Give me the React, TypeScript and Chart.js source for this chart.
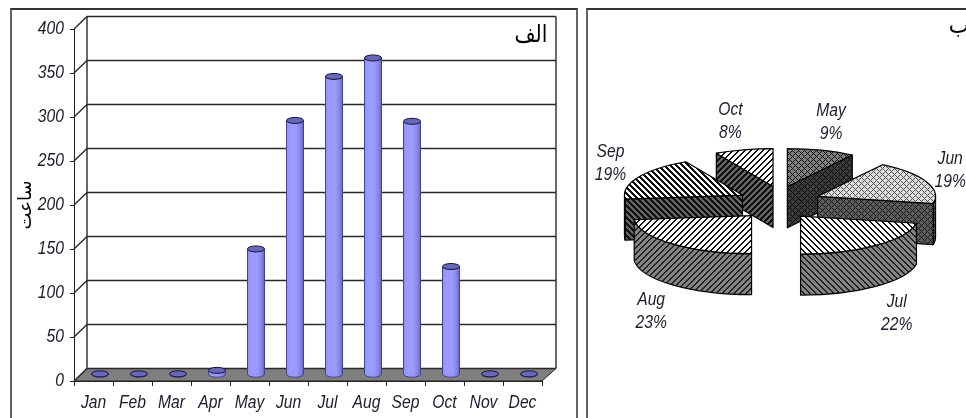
import React, { useEffect, useRef } from "react";
import { Chart, registerables } from "chart.js";

Chart.register(...registerables);

const months = ["Jan", "Feb", "Mar", "Apr", "May", "Jun", "Jul", "Aug", "Sep", "Oct", "Nov", "Dec"];
const hours = [1, 1, 1, 5, 143, 289, 339, 360, 288, 123, 1, 1];
const yTicks = [0, 50, 100, 150, 200, 250, 300, 350, 400];
const pieMonths = ["May", "Jun", "Jul", "Aug", "Sep", "Oct"];
const pieHours = [143, 289, 339, 360, 288, 123];
const pieExplode = [36, 44, 37, 38, 39, 16];
const yTitle = "ساعت";
const panelA = "الف";
const panelB = "ب";

const LABEL_FONT = 'italic 18px "Liberation Sans", sans-serif';
const ARABIC_FONT = '24px "DejaVu Sans"';
const TEXT = "#1c1c2a";

function squeezed(ctx: any, text: string, x: number, y: number, align: string, font: string, sx = 0.87) {
  ctx.save();
  ctx.translate(x, y);
  ctx.scale(sx, 1);
  ctx.font = font;
  ctx.textAlign = align;
  ctx.textBaseline = "middle";
  ctx.fillText(text, 0, 0);
  ctx.restore();
}

function tile(paint: (x: number, y: number) => string) {
  const c = document.createElement("canvas");
  c.width = 6;
  c.height = 6;
  const g = c.getContext("2d")!;
  for (let x = 0; x < 6; x++) for (let y = 0; y < 6; y++) {
    g.fillStyle = paint(x, y);
    g.fillRect(x, y, 1, 1);
  }
  return g.createPattern(c, "repeat")!;
}
const stripes = (down: boolean, w: number, bg: string, fg: string) =>
  tile((x, y) => ((down ? x - y + 12 : x + y) % 6 < w ? fg : bg));
const lattice = (bg: string, fg: string) =>
  tile((x, y) => ((x + y) % 6 === 0 || (x - y + 6) % 6 === 0 ? fg : bg));

const barDepth = {
  id: "barDepth",
  beforeDatasetsDraw(chart: any) {
    const { ctx, chartArea: a, scales } = chart;
    const dx = 13, dy = -12.5;
    ctx.save();
    ctx.beginPath();
    ctx.moveTo(a.left, a.bottom);
    ctx.lineTo(a.right, a.bottom);
    ctx.lineTo(a.right + dx + 1, a.bottom + dy);
    ctx.lineTo(a.left + dx, a.bottom + dy);
    ctx.closePath();
    ctx.fillStyle = "#7f7f7f";
    ctx.fill();
    ctx.strokeStyle = "#222";
    ctx.lineWidth = 1;
    ctx.stroke();
    ctx.lineWidth = 1.4;
    ctx.strokeStyle = "#2a2a2a";
    scales.y.ticks.forEach((_: any, i: number) => {
      const y = scales.y.getPixelForTick(i);
      ctx.beginPath();
      ctx.moveTo(a.left, y);
      ctx.lineTo(a.left + dx, y + dy);
      ctx.lineTo(a.right + dx + 1, y + dy);
      ctx.stroke();
    });
    ctx.beginPath();
    ctx.moveTo(a.left + dx, a.top + dy);
    ctx.lineTo(a.left + dx, a.bottom + dy);
    ctx.moveTo(a.right + dx + 1, a.top + dy);
    ctx.lineTo(a.right + dx + 1, a.bottom + dy);
    ctx.stroke();
    ctx.fillStyle = "#000";
    ctx.direction = "rtl";
    squeezed(ctx, panelA, 531, 36, "center", ARABIC_FONT, 0.85);
    ctx.restore();
    ctx.save();
    ctx.translate(dx / 2, dy / 2);
  },
  afterDatasetsDraw(chart: any) {
    const { ctx } = chart;
    const rim = 3;
    chart.getDatasetMeta(0).data.forEach((el: any) => {
      const w = el.width / 2;
      ctx.lineWidth = 1;
      ctx.beginPath();
      ctx.moveTo(el.x - w, el.base);
      ctx.ellipse(el.x, el.base, w, rim, 0, Math.PI, 0, true);
      ctx.fillStyle = el.options.backgroundColor;
      ctx.fill();
      ctx.strokeStyle = "#44448c";
      ctx.beginPath();
      ctx.moveTo(el.x - w, el.y);
      ctx.lineTo(el.x - w, el.base);
      ctx.ellipse(el.x, el.base, w, rim, 0, Math.PI, 0, true);
      ctx.lineTo(el.x + w, el.y);
      ctx.stroke();
      ctx.strokeStyle = "#15153a";
      ctx.beginPath();
      ctx.ellipse(el.x, el.y, w, rim, 0, 0, Math.PI * 2);
      ctx.fillStyle = "#6868b8";
      ctx.fill();
      ctx.stroke();
    });
    ctx.restore();
    // tick labels, slightly condensed like the source image
    const { x, y } = chart.scales;
    const a = chart.chartArea;
    ctx.save();
    ctx.fillStyle = TEXT;
    x.ticks.forEach((_: any, i: number) => {
      squeezed(ctx, months[i], x.getPixelForTick(i), a.bottom + 22, "center", LABEL_FONT);
    });
    y.ticks.forEach((t: any, i: number) => {
      squeezed(ctx, String(t.value), a.left - 10, y.getPixelForTick(i), "right", LABEL_FONT);
    });
    ctx.restore();
  },
};

const pie3d = {
  id: "pie3d",
  beforeDatasetDraw() {
    return false;
  },
  afterDatasetsDraw(chart: any) {
    const { ctx } = chart;
    const sides = chart.options.plugins.pie3d.sides;
    const K = 0.322, DEPTH = 41, OY = 17;
    const total = pieHours.reduce((s, v) => s + v, 0);
    const arcs = chart.getDatasetMeta(0).data.map((el: any, i: number) => ({ el, i }));
    const mid = (e: any) => (e.startAngle + e.endAngle) / 2;
    const order = [...arcs].sort((p: any, q: any) => Math.sin(mid(p.el)) - Math.sin(mid(q.el)));
    ctx.save();
    ctx.strokeStyle = "#000";
    ctx.lineWidth = 1.2;
    ctx.lineJoin = "round";
    order.forEach(({ el, i }: any) => {
      const m = mid(el);
      const ax = el.x + Math.cos(m) * pieExplode[i];
      const ay = el.y + Math.sin(m) * OY;
      const a = el.outerRadius, b = a * K;
      const s = el.startAngle, e = el.endAngle;
      const face = (t: number) => {
        const px = ax + Math.cos(t) * a, py = ay + Math.sin(t) * b;
        ctx.beginPath();
        ctx.moveTo(ax, ay);
        ctx.lineTo(px, py);
        ctx.lineTo(px, py + DEPTH);
        ctx.lineTo(ax, ay + DEPTH);
        ctx.closePath();
        ctx.fillStyle = sides[i];
        ctx.fill();
        ctx.stroke();
      };
      if (Math.cos(s) < -0.01) face(s);
      if (Math.cos(e) > 0.01) face(e);
      const lo = Math.max(s, 0), hi = Math.min(e, Math.PI);
      if (lo < hi) {
        ctx.beginPath();
        ctx.ellipse(ax, ay, a, b, 0, lo, hi);
        ctx.ellipse(ax, ay + DEPTH, a, b, 0, hi, lo, true);
        ctx.closePath();
        ctx.fillStyle = sides[i];
        ctx.fill();
        ctx.stroke();
      }
      ctx.beginPath();
      ctx.moveTo(ax, ay);
      ctx.ellipse(ax, ay, a, b, 0, s, e);
      ctx.closePath();
      ctx.fillStyle = el.options.backgroundColor;
      ctx.fill();
      ctx.stroke();
    });
    ctx.fillStyle = TEXT;
    arcs.forEach(({ el, i }: any) => {
      const m = mid(el);
      const x = el.x + Math.cos(m) * 188;
      const y = el.y + Math.sin(m) * 84 + (Math.sin(m) > 0 ? 46 : 0);
      squeezed(ctx, pieMonths[i], x, y - 11.5, "center", LABEL_FONT);
      squeezed(ctx, `${Math.round((pieHours[i] / total) * 100)}%`, x, y + 11.5, "center", LABEL_FONT);
    });
    ctx.fillStyle = "#000";
    ctx.direction = "rtl";
    squeezed(ctx, panelB, 377, 27, "center", ARABIC_FONT, 0.9);
    ctx.restore();
  },
};

export default function App() {
  const barRef = useRef<HTMLCanvasElement>(null);
  const pieRef = useRef<HTMLCanvasElement>(null);

  useEffect(() => {
    const bar = new Chart(barRef.current!, {
      type: "bar",
      data: {
        labels: months,
        datasets: [{
          data: hours,
          barThickness: 17,
          borderWidth: 0,
          backgroundColor: (c: any) => {
            const x = c.chart.scales.x?.getPixelForValue(c.dataIndex);
            if (c.dataIndex === undefined || !Number.isFinite(x)) return "#9a9aff";
            const g = c.chart.ctx.createLinearGradient(x - 8.5, 0, x + 8.5, 0);
            g.addColorStop(0, "#9090f4");
            g.addColorStop(0.2, "#9a9aff");
            g.addColorStop(0.6, "#9a9aff");
            g.addColorStop(0.85, "#8282e2");
            g.addColorStop(1, "#6666c0");
            return g;
          },
        }],
      },
      options: {
        responsive: false,
        animation: false,
        layout: { padding: { top: 29, right: 40, left: 0, bottom: 0 } },
        plugins: { legend: { display: false }, tooltip: { enabled: false } },
        scales: {
          x: {
            afterFit: (s: any) => { s.height = 37; },
            grid: { drawOnChartArea: false, tickLength: 5, color: "#222" },
            border: { color: "#222" },
            ticks: { display: false, autoSkip: false },
          },
          y: {
            min: 0, max: 400,
            afterFit: (s: any) => { s.width = 74; },
            afterBuildTicks: (s: any) => { s.ticks = yTicks.map((value) => ({ value })); },
            grid: { drawOnChartArea: false, tickLength: 4, color: "#222" },
            border: { color: "#222" },
            title: {
              display: true, text: yTitle, color: "#000",
              font: { family: "DejaVu Sans", size: 18 }, padding: { top: 16, bottom: 0 },
            },
            ticks: { display: false },
          },
        },
      },
      plugins: [barDepth],
    } as any);

    const tops = [
      lattice("#808080", "#111111"),
      lattice("#dcdcdc", "#555555"),
      stripes(true, 2, "#ffffff", "#111111"),
      stripes(false, 2, "#ffffff", "#111111"),
      stripes(true, 3, "#ffffff", "#111111"),
      stripes(false, 2, "#ffffff", "#111111"),
    ];
    const sides = [
      lattice("#3c3c3c", "#0a0a0a"),
      lattice("#5c5c5c", "#1a1a1a"),
      stripes(true, 2, "#848484", "#222222"),
      stripes(false, 2, "#848484", "#222222"),
      stripes(true, 3, "#666666", "#111111"),
      stripes(false, 3, "#666666", "#111111"),
    ];
    const pie = new Chart(pieRef.current!, {
      type: "pie",
      data: {
        labels: pieMonths,
        datasets: [{ data: pieHours, backgroundColor: tops, borderWidth: 0 }],
      },
      options: {
        responsive: false,
        animation: false,
        radius: 118,
        layout: { padding: { left: 6, bottom: 12 } },
        plugins: { legend: { display: false }, tooltip: { enabled: false }, pie3d: { sides } },
      },
      plugins: [pie3d],
    } as any);

    return () => {
      bar.destroy();
      pie.destroy();
    };
  }, []);

  const frame = (left: number, width: number): React.CSSProperties => ({
    position: "absolute", left, top: 8, width, height: 430,
    borderLeft: "2px solid #666", borderRight: "2px solid #666", borderTop: "2px solid #333", boxSizing: "border-box",
  });

  return (
    <div style={{ position: "fixed", left: 0, top: 0, width: 966, height: 418, overflow: "hidden", background: "#fff" }}>
      <div style={frame(10, 568)} />
      <div style={frame(586, 400)} />
      <canvas ref={barRef} width={582} height={418} style={{ position: "absolute", left: 0, top: 0, display: "block" }} />
      <canvas ref={pieRef} width={384} height={418} style={{ position: "absolute", left: 582, top: 0, display: "block" }} />
    </div>
  );
}
